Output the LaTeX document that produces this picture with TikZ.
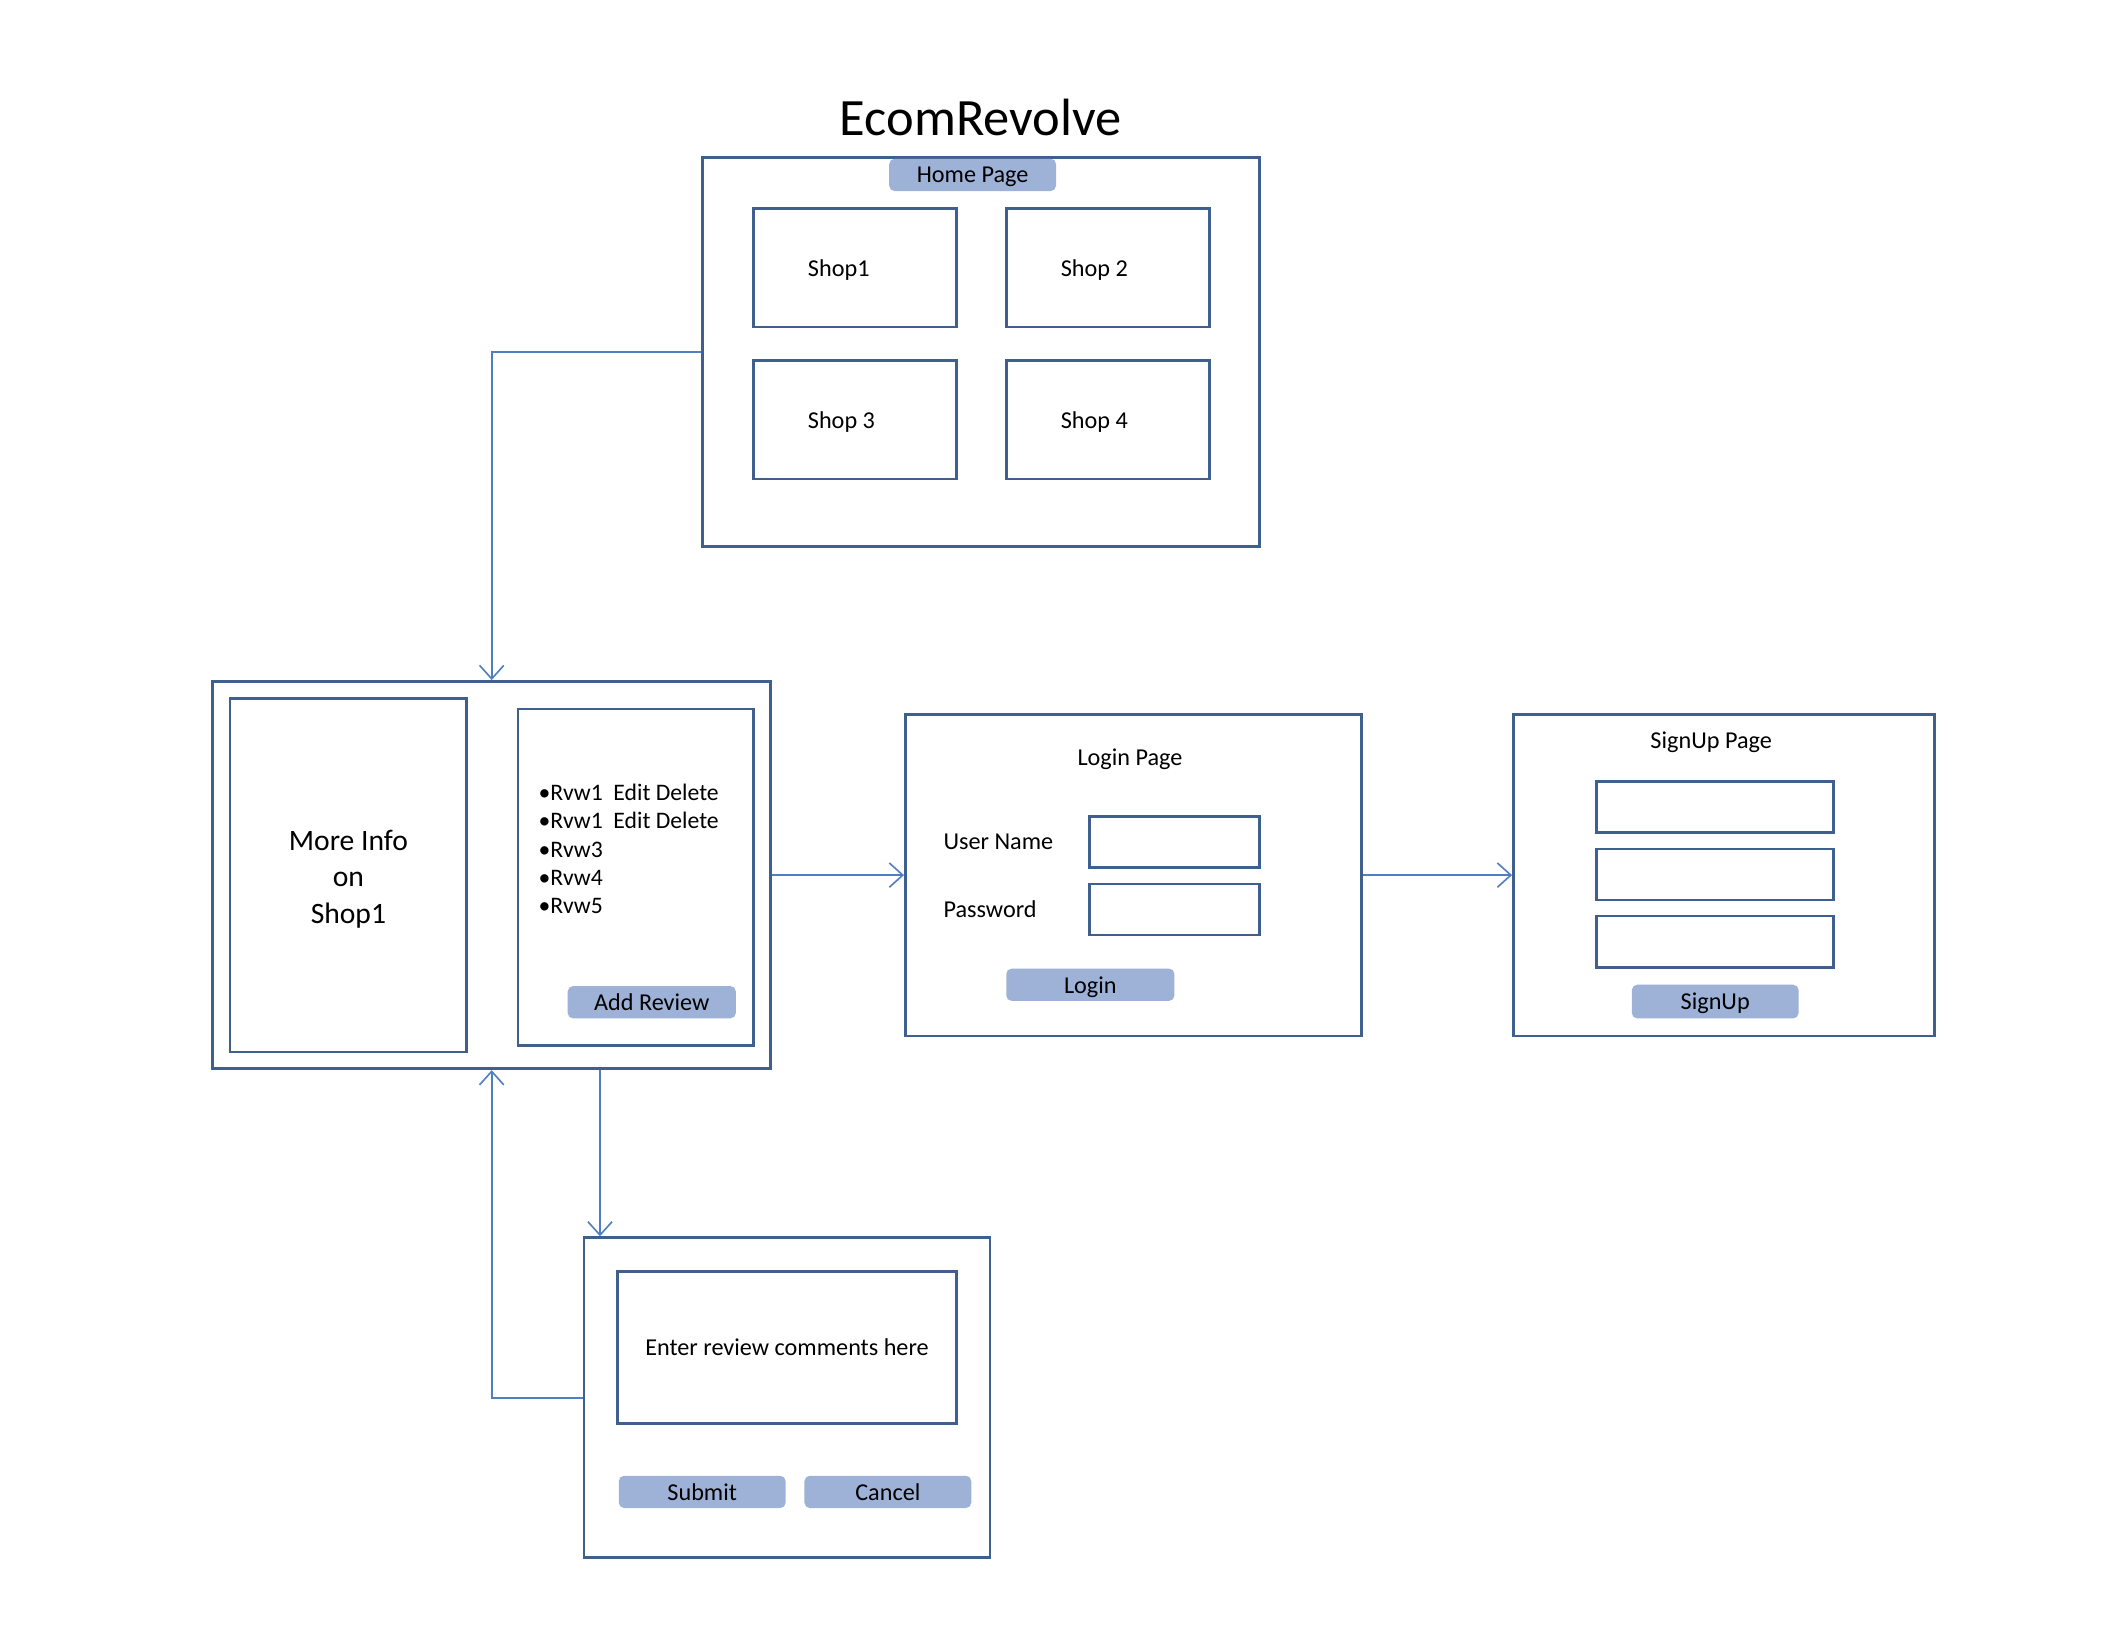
\documentclass[tikz,border=0pt]{standalone}
\usepackage{fontspec}
\setmainfont{Carlito}
\definecolor{mockBlue}{HTML}{3F5F8F}
\definecolor{mockArrow}{HTML}{4F7FC0}
\definecolor{mockButton}{HTML}{9DB2D6}
\usetikzlibrary{arrows.meta, positioning, calc}
\tikzset{
    page box/.style={rectangle, draw=mockBlue, line width=1pt, fill=white, align=center, font=\fontsize{9}{10.5}\selectfont},
    shop box/.style={page box, minimum width=75.5pt, minimum height=44pt},
    field box/.style={page box, minimum width=63pt, minimum height=19pt},
    btn node/.style={rectangle, fill=mockButton, rounded corners=2pt, minimum width=62pt, minimum height=12pt, inner sep=0pt, text depth=0pt, font=\fontsize{9}{10.5}\selectfont},
    plain text/.style={inner sep=0pt, text depth=0pt, font=\fontsize{9}{10.5}\selectfont},
    arrow style/.style={-{Straight Barb[length=5pt, width=9pt]}, line width=0.6pt, mockArrow},
}

\begin{document}
\begin{tikzpicture}[x=0.5pt, y=-0.5pt]
    \useasboundingbox (0,0) rectangle (1567,1217.6);
    % title
    \node[font=\fontsize{19.5}{23}\selectfont] (title) at (729,87) {EcomRevolve};

    % home page
    \node[page box, minimum width=207pt, minimum height=144.5pt] (home) at (729,261.5) {};
    \node[btn node] (homeBtn) at (723,130) {Home Page};
    \node[shop box, label={[plain text, xshift=-6pt]center:Shop1}] (shop1) at (635.5,199) {};
    \node[shop box, label={[plain text, xshift=-5pt]center:Shop 2}] (shop2) at (823.5,199) {};
    \node[shop box, label={[plain text, xshift=-5pt]center:Shop 3}] (shop3) at (635.5,312) {};
    \node[shop box, label={[plain text, xshift=-5pt]center:Shop 4}] (shop4) at (823.5,312) {};

    % shop details
    \node[page box, minimum width=207.5pt, minimum height=144pt] (info) at (365.5,650.5) {};
    \node[page box, minimum width=88pt, minimum height=131.5pt, label={[align=center, font=\fontsize{11}{13.5}\selectfont, yshift=-1.5pt]center:More Info\\on\\Shop1}] (moreInfo) at (259,650.5) {};
    \node[page box, minimum width=87.5pt, minimum height=125pt] (reviews) at (472.5,652) {};
    \node[plain text, anchor=west, align=left, font=\fontsize{8.8}{10.5}\selectfont] (rvwList) at (400,631) {•Rvw1\ \ Edit Delete\\•Rvw1\ \ Edit Delete\\•Rvw3\\•Rvw4\\•Rvw5};
    \node[btn node, minimum width=62.5pt] (addBtn) at (484.5,745) {Add Review};

    % login page
    \node[page box, minimum width=169.5pt, minimum height=119.5pt] (login) at (842.5,650.5) {};
    \node[plain text] (loginTitle) at (840,563) {Login Page};
    \node[plain text, anchor=west] (userLbl) at (701,626) {User Name};
    \node[plain text, anchor=west] (passLbl) at (701,676) {Password};
    \node[field box] (userField) at (873,626) {};
    \node[field box] (passField) at (873,676) {};
    \node[btn node, minimum width=62.5pt] (loginBtn) at (810.5,732) {Login};

    % signup page
    \node[page box, minimum width=156.5pt, minimum height=119.5pt] (signup) at (1281.5,650.5) {};
    \node[plain text] (signupTitle) at (1272,550) {SignUp Page};
    \foreach \y/\n in {600/1, 650/2, 700/3}
        \node[field box, minimum width=88pt] (signField\n) at (1275,\y) {};
    \node[btn node, minimum height=12.5pt] (signBtn) at (1275,744.5) {SignUp};

    % add review page
    \node[page box, minimum width=151pt, minimum height=119pt] (review) at (585,1039) {};
    \node[page box, minimum width=126pt, minimum height=56.5pt] (comment) at (585,1001.5) {Enter review comments here};
    \node[btn node] (submitBtn) at (522,1109) {Submit};
    \node[btn node] (cancelBtn) at (660,1109) {Cancel};

    % connectors
    \draw[arrow style] (home.west) -| (info.north);
    \draw[arrow style] (info.east) -- (login.west);
    \draw[arrow style] (login.east) -- (signup.west);
    \draw[arrow style] ([xshift=6.5pt]review.north west |- info.south) -- ([xshift=6.5pt]review.north west);
    \draw[arrow style] (review.west) -| (info.south);
\end{tikzpicture}
\end{document}
